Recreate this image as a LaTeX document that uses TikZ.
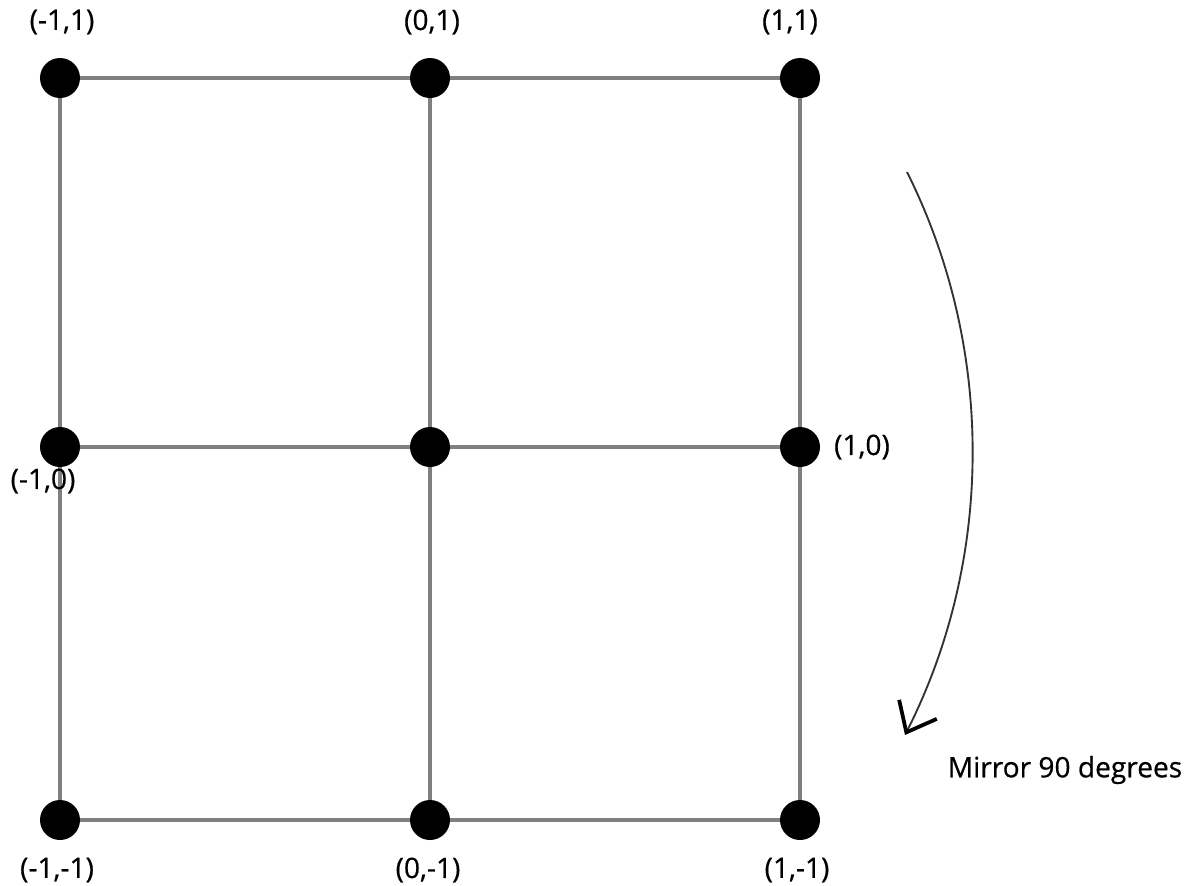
\documentclass[tikz,border=0pt]{standalone}
\usepackage{fontspec}
\setmainfont{Open Sans}
\newfontfamily\labelfont{Open Sans}[FakeBold=0.6]
\usetikzlibrary{arrows.meta}

\tikzset{
  dot/.style={circle, fill=black, inner sep=0pt, minimum size=1.2cm},
  gridline/.style={draw=black!50, line width=2.6pt},
  coordlabel/.style={font=\labelfont\fontsize{24}{28}\selectfont},
  turnarrow/.style={draw=black!80, line width=1.6pt,
    -{Straight Barb[length=22pt, width=36pt, line width=3.2pt, black]}}
}

\begin{document}
\begin{tikzpicture}[x=0.03cm, y=-0.03cm]
    \useasboundingbox (0,0) rectangle (1190,886);

    % Grid points
    \node[dot] (nw) at (60,78) {};
    \node[dot] (n)  at (430,78) {};
    \node[dot] (ne) at (800,78) {};
    \node[dot] (w)  at (60,447) {};
    \node[dot] (c)  at (430,447) {};
    \node[dot] (e)  at (800,447) {};
    \node[dot] (sw) at (60,820) {};
    \node[dot] (s)  at (430,820) {};
    \node[dot] (se) at (800,820) {};

    % Grid lines
    \draw[gridline] (nw) -- (n) -- (ne);
    \draw[gridline] (w) -- (c) -- (e);
    \draw[gridline] (sw) -- (s) -- (se);
    \draw[gridline] (nw) -- (w) -- (sw);
    \draw[gridline] (n) -- (c) -- (s);
    \draw[gridline] (ne) -- (e) -- (se);

    % Coordinate labels
    \node[coordlabel] (lnw) at (62,22) {(-1,1)};
    \node[coordlabel] (ln)  at (432,22) {(0,1)};
    \node[coordlabel] (lne) at (790,22) {(1,1)};
    \node[coordlabel] (lw)  at (43,481) {(-1,0)};
    \node[coordlabel] (le)  at (862,447) {(1,0)};
    \node[coordlabel] (lsw) at (57,870) {(-1,-1)};
    \node[coordlabel] (ls)  at (428,870) {(0,-1)};
    \node[coordlabel] (lse) at (797,870) {(1,-1)};

    % Rotation arrow
    \coordinate (arcstart) at (907,172);
    \coordinate (arcend) at (905,735);
    \draw[turnarrow] (arcstart) .. controls (995,348) and (994,559) .. (arcend);
    \node[coordlabel] (mirror) at (1065,770) {Mirror 90 degrees};

\end{tikzpicture}
\end{document}
